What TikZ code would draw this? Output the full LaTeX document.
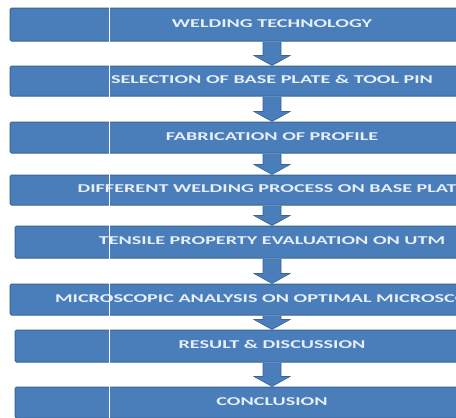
\documentclass[tikz,border=0pt]{standalone}
\usepackage{fontspec}
\setmainfont{Carlito}
\newcommand{\stagetext}[1]{\raisebox{2.5pt}{\scalebox{1.68}[1]{#1}}}
\begin{document}
\definecolor{boxfill}{HTML}{4A7EBB}
\definecolor{boxline}{HTML}{3A6494}
\definecolor{boxtext}{HTML}{E6EEF8}
\begin{tikzpicture}[x=1pt,y=-1pt,
  stage/.style={draw=boxline, line width=1pt, fill=boxfill, rounded corners=1.5pt,
    inner sep=0pt, text=boxtext, font=\fontsize{12}{14}\selectfont\bfseries},
  flow/.style={draw=boxline, line width=0.6pt, fill=boxfill, line join=miter}]
\useasboundingbox (0,0) rectangle (456,418);
\begin{scope}
\clip (0,0) rectangle (456,418);
% stages, all centred on x = 272 and running off the right side
\node[stage, minimum width=524pt, minimum height=33pt] (b1) at (272,24.5) {\stagetext{WELDING TECHNOLOGY}};
\node[stage, minimum width=524pt, minimum height=30pt] (b2) at (272,81) {\stagetext{SELECTION OF BASE PLATE \& TOOL PIN}};
\node[stage, minimum width=524pt, minimum height=31pt] (b3) at (272,137.5) {\stagetext{FABRICATION OF PROFILE}};
\node[stage, minimum width=524pt, minimum height=30pt] (b4) at (272,190) {\stagetext{DIFFERENT WELDING PROCESS ON BASE PLATE}};
\node[stage, minimum width=514pt, minimum height=32pt] (b5) at (272,242) {\stagetext{TENSILE PROPERTY EVALUATION ON UTM}};
\node[stage, minimum width=524pt, minimum height=31pt] (b6) at (272,299.5) {\stagetext{MICROSCOPIC ANALYSIS ON OPTIMAL MICROSCOPE}};
\node[stage, minimum width=514pt, minimum height=32pt] (b7) at (272,346) {\stagetext{RESULT \& DISCUSSION}};
\node[stage, minimum width=514pt, minimum height=31pt] (b8) at (272,402.5) {\stagetext{CONCLUSION}};
% block arrows between consecutive stages
\foreach \a/\b in {b1/b2,b2/b3,b3/b4,b4/b5,b5/b6,b6/b7,b7/b8}{
  \draw[flow] ([xshift=-9pt]\a.south) -- ([xshift=-9pt,yshift=10pt]\b.north)
    -- ([xshift=-18pt,yshift=10pt]\b.north) -- (\b.north)
    -- ([xshift=18pt,yshift=10pt]\b.north) -- ([xshift=9pt,yshift=10pt]\b.north)
    -- ([xshift=9pt]\a.south);
}
% thin white rule crossing every stage
\draw[white, line width=0.8pt] (109,0) -- (109,418);
\end{scope}
\end{tikzpicture}
\end{document}
